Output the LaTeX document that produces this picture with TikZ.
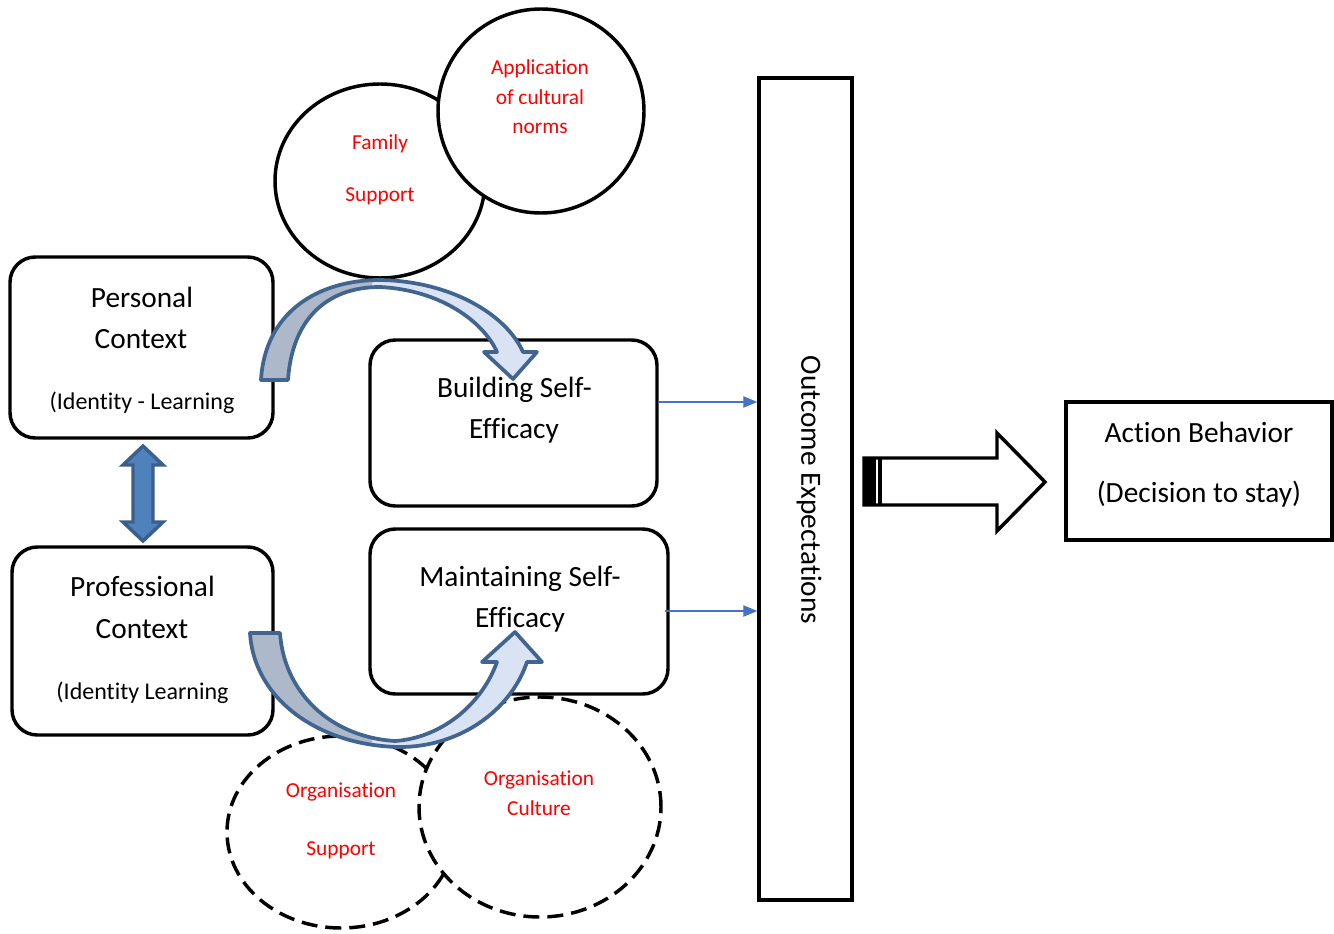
\documentclass[tikz,border=0pt]{standalone}
\usepackage{fontspec}
\setmainfont{Carlito}[Ligatures=NoCommon]
\usetikzlibrary{shapes.geometric,arrows.meta}
\definecolor{arrline}{HTML}{41658F}
\definecolor{arrgray}{HTML}{ADB9CA}
\definecolor{arrblue}{HTML}{DAE3F3}
\definecolor{dblfill}{HTML}{4F81BD}
\definecolor{dblline}{HTML}{3A5F8C}
\definecolor{linkblue}{HTML}{4472C4}
\tikzset{
  ctxbox/.style={draw=black, line width=2.6pt, rounded corners=19pt, inner sep=0pt, fill=white},
  sqbox/.style={draw=black, line width=2.6pt, inner sep=0pt, fill=white},
  bubble/.style={ellipse, draw=black, line width=2.6pt, inner sep=0pt, fill=white},
  dashbubble/.style={bubble, dash pattern=on 12pt off 6pt},
  bigtxt/.style={font=\fontsize{22}{26}\selectfont, anchor=base, inner sep=0pt},
  midtxt/.style={font=\fontsize{18}{22}\selectfont, anchor=base, inner sep=0pt},
  redtxt/.style={font=\fontsize{16}{19}\selectfont, anchor=base, inner sep=0pt, text=red},
  curvearrow/.style={draw=arrline, line width=2.8pt, line join=round},
  link/.style={draw=linkblue, line width=1pt, -{Triangle[length=10.5pt,width=8.5pt]}},
}
\begin{document}
\begin{tikzpicture}[x=0.75pt,y=-0.75pt]
\useasboundingbox (0,0) rectangle (1334,934);

% influence bubbles above
\node[bubble, minimum width=157.5pt, minimum height=145.5pt] (family) at (380,181) {};
\node[bubble, minimum width=154.5pt, minimum height=153pt] (norms) at (541,111) {};
\node[redtxt] (familyA) at (380,150) {Family};
\node[redtxt] (familyB) at (380,202) {Support};
\node[redtxt] (normsA) at (540,75) {Application};
\node[redtxt] (normsB) at (540,105) {of cultural};
\node[redtxt] (normsC) at (540,134) {norms};

% context boxes
\node[ctxbox, minimum width=197.25pt, minimum height=135.75pt] (personal) at (141.5,347.5) {};
\node[bigtxt] (personalA) at (142,307) {Personal};
\node[bigtxt] (personalB) at (141,348) {Context};
\node[midtxt] (personalC) at (142,409) {(Identity - Learning};

\node[ctxbox, minimum width=195.75pt, minimum height=141pt] (professional) at (142.5,641) {};
\node[bigtxt] (professionalA) at (142.5,596) {Professional};
\node[bigtxt] (professionalB) at (142,638) {Context};
\node[midtxt] (professionalC) at (142.5,699) {(Identity Learning};

% self-efficacy boxes
\node[ctxbox, minimum width=215.25pt, minimum height=124.5pt] (building) at (513.5,423) {};
\node[bigtxt] (buildingA) at (514.5,397) {Building Self-};
\node[bigtxt] (buildingB) at (514,438) {Efficacy};

\node[ctxbox, minimum width=223.5pt, minimum height=123.75pt] (maintain) at (519,611.5) {};
\node[bigtxt] (maintainA) at (520,586) {Maintaining Self-};
\node[bigtxt] (maintainB) at (520,627) {Efficacy};

% outcome bar and action box
\node[sqbox, minimum width=69.75pt, minimum height=616.5pt] (outcome) at (805.5,489) {};
\node[font=\fontsize{22}{26}\selectfont, rotate=-90, inner sep=0pt] (outcomeT) at (809,490) {Outcome Expectations};

\node[sqbox, minimum width=199.5pt, minimum height=103.5pt] (action) at (1199,471) {};
\node[bigtxt] (actionA) at (1199,442) {Action Behavior};
\node[bigtxt] (actionB) at (1199,502) {(Decision to stay)};

% organisational bubbles
\node[dashbubble, minimum width=171pt, minimum height=144pt] (orgsup) at (341,832) {};
\node[dashbubble, minimum width=181.5pt, minimum height=165pt] (orgcul) at (540,807) {};
\node[redtxt] (orgsupA) at (341,797) {Organisation};
\node[redtxt] (orgsupB) at (341,855) {Support};
\node[redtxt] (orgculA) at (539,785) {Organisation};
\node[redtxt] (orgculB) at (539,815) {Culture};

% curved arrow: personal context into building self-efficacy
\def\toparrow{(261,380) .. controls (265,312) and (318,280) .. (380,280)
  .. controls (450,281) and (506,314) .. (523,352) -- (537,352) -- (513,379)
  -- (484,352) -- (497,352) .. controls (483,321) and (440,290) .. (380,287)
  .. controls (326,287) and (292,320) .. (288,380) -- cycle}
\fill[arrblue] \toparrow;
\begin{scope}
  \clip (0,0) rectangle (372,400);
  \fill[arrgray] \toparrow;
\end{scope}
\draw[curvearrow] \toparrow;

% curved arrow: professional context into maintaining self-efficacy
\def\botarrow{(250,633) -- (280,633) .. controls (284,692) and (330,737) .. (395,741)
  .. controls (440,738) and (481,706) .. (497,662) -- (482,662) -- (515,632)
  -- (542,662) -- (527,662) .. controls (510,712) and (458,747) .. (400,747)
  .. controls (320,746) and (254,700) .. (250,633) -- cycle}
\fill[arrblue] \botarrow;
\begin{scope}
  \clip (0,600) rectangle (372,760);
  \fill[arrgray] \botarrow;
\end{scope}
\draw[curvearrow] \botarrow;

% two-way link between the contexts
\draw[fill=dblfill, draw=dblline, line width=2.6pt, line join=miter]
  (143,446) -- (163,465) -- (153,465) -- (153,522) -- (163,522) -- (143,541)
  -- (123,522) -- (133,522) -- (133,465) -- (123,465) -- cycle;

% links into outcome expectations
\draw[link] (building.east |- 0,402) -- (outcome.west |- 0,402);
\draw[link] (665,611) -- (outcome.west |- 0,611);

% block arrow to action behavior
\draw[fill=white, line width=2.6pt, line join=miter]
  (864,458) -- (997,458) -- (997,433) -- (1045,482) -- (997,531) -- (997,505)
  -- (864,505) -- cycle;
\fill[black] (864,458) rectangle (876,505);
\draw[line width=2.4pt] (880,458) -- (880,505);
\end{tikzpicture}
\end{document}
